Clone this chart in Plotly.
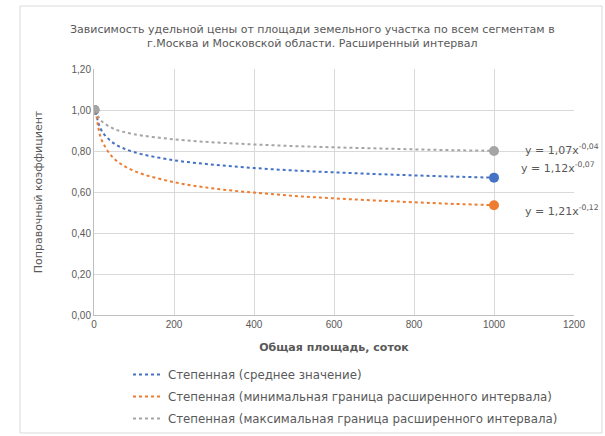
import plotly.graph_objects as go

# Read-off values of the power trendlines
x_trend = [5, 10, 20, 50, 100, 200, 300, 400, 500, 600, 700, 800, 900, 1000]
y_mean = [0.994, 0.944, 0.896, 0.837, 0.795, 0.755, 0.733, 0.717, 0.705, 0.696, 0.688, 0.681, 0.675, 0.670]
y_min = [1.000, 0.922, 0.850, 0.763, 0.703, 0.648, 0.617, 0.597, 0.581, 0.569, 0.559, 0.550, 0.542, 0.536]
y_max = [1.000, 0.971, 0.944, 0.908, 0.882, 0.857, 0.842, 0.832, 0.824, 0.818, 0.813, 0.808, 0.804, 0.801]

# Data points (markers)
x_points = [1, 1000]
p_mean = [1.00, 0.67]
p_min = [1.00, 0.535]
p_max = [1.00, 0.80]

names = [
    "Степенная (среднее значение)",
    "Степенная (минимальная граница расширенного интервала)",
    "Степенная (максимальная граница расширенного интервала)",
]
equations = ["y = 1,07x<sup>-0,04</sup>", "y = 1,12x<sup>-0,07</sup>", "y = 1,21x<sup>-0,12</sup>"]

BLUE = "#4472C4"
ORANGE = "#ED7D31"
GRAY = "#A5A5A5"
TXT = "#595959"
WIDE = "DejaVu Sans, Liberation Sans, Arial"

fig = go.Figure()

# point markers (not in legend)
fig.add_trace(go.Scatter(x=x_points, y=p_min, mode="markers", showlegend=False,
                         marker=dict(color=ORANGE, size=10)))
fig.add_trace(go.Scatter(x=x_points, y=p_mean, mode="markers", showlegend=False,
                         marker=dict(color=BLUE, size=10)))
fig.add_trace(go.Scatter(x=x_points, y=p_max, mode="markers", showlegend=False,
                         marker=dict(color=GRAY, size=10)))

# trendlines
for i, (yv, col) in enumerate([(y_mean, BLUE), (y_min, ORANGE), (y_max, GRAY)]):
    fig.add_trace(go.Scatter(x=x_trend, y=yv, mode="lines", name=names[i], legendgroup=f"g{i}",
                             line=dict(color=col, width=2, dash="dot", shape="spline")))

eq_font = dict(size=11, color=TXT, family=WIDE)
annotations = [
    dict(text="Зависимость удельной цены от площади земельного участка по всем сегментам в<br>"
              "г.Москва и Московской области. Расширенный интервал",
         xref="paper", yref="paper", x=(312 - 94) / 480, y=(315 - 37) / 246,
         xanchor="center", yanchor="middle", showarrow=False,
         font=dict(size=11, color=TXT, family=WIDE)),
    dict(text=equations[0], xref="paper", yref="paper", x=(523 - 94) / 480, y=(315 - 149) / 246,
         xanchor="left", yanchor="middle", showarrow=False, font=eq_font),
    dict(text=equations[1], xref="paper", yref="paper", x=(519 - 94) / 480, y=(315 - 167) / 246,
         xanchor="left", yanchor="middle", showarrow=False, font=eq_font),
    dict(text=equations[2], xref="paper", yref="paper", x=(523 - 94) / 480, y=(315 - 210) / 246,
         xanchor="left", yanchor="middle", showarrow=False, font=eq_font),
]

fig.update_layout(
    width=605, height=436,
    margin=dict(l=94, r=31, t=69, b=121, autoexpand=False),
    paper_bgcolor="white", plot_bgcolor="white",
    font=dict(family="Liberation Sans, Arial", size=10, color=TXT),
    annotations=annotations,
    legend=dict(x=(128 - 94) / 480, y=(315 - 360) / 246, xanchor="left", yanchor="top",
                font=dict(size=11.8, color=TXT, family=WIDE), bgcolor="rgba(0,0,0,0)",
                tracegroupgap=3, itemwidth=30, traceorder="grouped"),
    shapes=[dict(type="rect", xref="paper", yref="paper",
                 x0=(20 - 94) / 480, x1=(602 - 94) / 480,
                 y0=(315 - 433) / 246, y1=(315 - 6) / 246,
                 line=dict(color="#D9D9D9", width=1))],
)

fig.update_xaxes(range=[0, 1200], tickvals=[0, 200, 400, 600, 800, 1000, 1200],
                 showgrid=True, gridcolor="#D9D9D9", zeroline=False,
                 showline=True, linecolor="#BFBFBF",
                 tickfont=dict(size=10, color=TXT),
                 title=dict(text="<b>Общая площадь, соток</b>",
                            font=dict(size=11, color=TXT, family=WIDE), standoff=14))
fig.update_yaxes(range=[0, 1.2], tickvals=[0, 0.2, 0.4, 0.6, 0.8, 1.0, 1.2],
                 ticktext=["0,00", "0,20", "0,40", "0,60", "0,80", "1,00", "1,20"],
                 showgrid=True, gridcolor="#D9D9D9", zeroline=False,
                 showline=True, linecolor="#BFBFBF",
                 tickfont=dict(size=10, color=TXT),
                 title=dict(text="Поправочный коэффициент",
                            font=dict(size=11, color=TXT, family=WIDE), standoff=26))

fig.write_html("out.html")
